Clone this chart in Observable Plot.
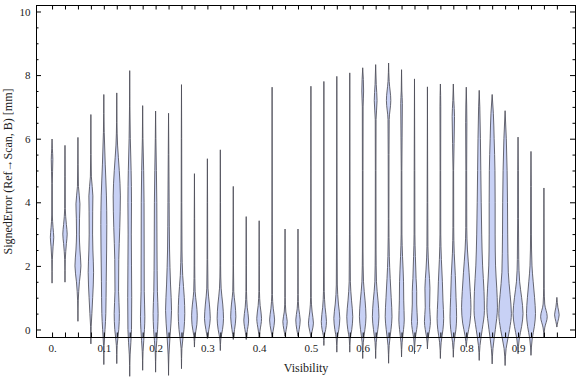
<!DOCTYPE html>
<html>
<head>
<meta charset="utf-8">
<script src="https://cdn.jsdelivr.net/npm/d3@7"></script>
<script src="https://cdn.jsdelivr.net/npm/@observablehq/plot@0.6"></script>
<style>
  html, body { margin: 0; padding: 0; background: #fff; }
  #chart { width: 576px; height: 377px; }
</style>
</head>
<body>
<div id="chart"></div>
<script>
// Category positions (Visibility)
const visibility = [0, 0.025, 0.05, 0.075, 0.1, 0.125, 0.15, 0.175, 0.2, 0.225,
  0.25, 0.275, 0.3, 0.325, 0.35, 0.375, 0.4, 0.425, 0.45, 0.475,
  0.5, 0.525, 0.55, 0.575, 0.6, 0.625, 0.65, 0.675, 0.7, 0.725,
  0.75, 0.775, 0.8, 0.825, 0.85, 0.875, 0.9, 0.925, 0.95, 0.975];

// Violin profiles: [signed error (mm), relative density]
const violinKnots = [
  [[1.47,0],[2.2,0.3],[2.6,1.0],[2.9,1.7],[3.2,1.0],[3.6,0.3],[4.6,0.25],[5.35,0.8],[5.7,0.3],[5.99,0]],
  [[1.5,0],[2.2,0.3],[2.7,1.4],[3.0,2.2],[3.3,1.4],[3.8,0.3],[4.8,0.2],[5.79,0]],
  [[0.27,0],[0.9,0.3],[1.5,1.5],[2.0,3.0],[2.5,2.0],[3.0,1.4],[3.5,1.6],[3.95,2.0],[4.5,0.5],[5.2,0.2],[6.04,0]],
  [[-0.44,0],[0.1,0.3],[0.5,1.0],[1.0,1.8],[1.8,2.7],[2.5,2.0],[3.0,1.7],[3.7,1.8],[4.2,2.0],[4.8,0.5],[5.5,0.2],[6.76,0]],
  [[-1.09,0],[-0.5,0.3],[0,1.2],[0.5,2.0],[1.5,2.4],[2.5,2.8],[3.3,3.0],[4.2,2.6],[5.2,1.4],[6.2,0.4],[7.39,0]],
  [[-1.06,0],[-0.5,0.4],[0,2.0],[0.5,2.6],[1.2,1.8],[2.2,2.0],[3.2,3.0],[4.2,3.6],[5.0,2.5],[5.8,0.8],[6.5,0.2],[7.44,0]],
  [[-1.46,0],[-0.8,0.4],[0,1.8],[1,2.0],[2,1.8],[3,1.6],[4,1.8],[5,1.4],[6,0.6],[7,0.2],[8.14,0]],
  [[-1.27,0],[-0.7,0.4],[0,1.8],[0.4,2.2],[1.2,1.6],[2.5,1.5],[4,1.4],[5,1.0],[6,0.3],[7.04,0]],
  [[-1.33,0],[-0.7,0.4],[0,2.0],[0.5,2.5],[1.2,1.8],[2.5,1.4],[4,1.2],[5,0.8],[6,0.3],[6.87,0]],
  [[-1.43,0],[-0.8,0.4],[-0.2,1.5],[0.6,3.0],[1.4,2.0],[2.5,1.0],[4,0.6],[5.5,0.3],[6.8,0]],
  [[-1.22,0],[-0.6,0.4],[0,2.5],[0.5,3.3],[1.0,2.8],[1.7,1.2],[2.5,0.5],[4,0.3],[6,0.2],[7.7,0]],
  [[-0.54,0],[-0.2,0.6],[0.15,2.4],[0.45,2.8],[0.8,2.0],[1.2,0.7],[2,0.3],[3.5,0.2],[4.9,0]],
  [[-0.27,0],[0,1.5],[0.35,2.9],[0.8,2.0],[1.3,0.6],[2.2,0.3],[4,0.2],[5.37,0]],
  [[-0.65,0],[-0.3,0.5],[0,2.2],[0.35,3.2],[0.8,2.4],[1.3,0.8],[2,0.3],[4,0.2],[5.65,0]],
  [[-0.3,0],[0,1.3],[0.4,2.6],[0.8,1.8],[1.2,0.5],[2,0.2],[4.5,0]],
  [[-0.3,0],[-0.1,0.8],[0.3,2.4],[0.7,1.0],[1.2,0.3],[2,0.2],[3.55,0]],
  [[-0.25,0],[-0.05,0.8],[0.35,2.4],[0.75,1.0],[1.2,0.3],[2,0.2],[3.42,0]],
  [[-0.23,0],[-0.05,1.0],[0.3,2.5],[0.65,1.2],[1.1,0.3],[3,0.2],[7.62,0]],
  [[-0.2,0],[0,1.2],[0.25,2.2],[0.55,0.8],[1.0,0.2],[3.16,0]],
  [[-0.2,0],[0,1.2],[0.3,2.2],[0.65,0.8],[1.1,0.2],[3.16,0]],
  [[-0.23,0],[-0.05,1.2],[0.2,2.5],[0.55,1.2],[1.0,0.3],[2,0.2],[7.65,0]],
  [[-0.49,0],[-0.2,0.5],[0,1.8],[0.25,2.6],[0.7,1.2],[1.2,0.4],[2.5,0.2],[7.8,0]],
  [[-0.7,0],[-0.3,0.5],[0,2.0],[0.35,3.0],[0.8,1.6],[1.4,0.5],[3,0.25],[7.96,0]],
  [[-0.7,0],[-0.3,0.5],[0,2.0],[0.4,3.0],[0.9,1.8],[1.5,0.6],[3,0.3],[8.07,0]],
  [[-0.9,0],[-0.4,0.6],[0,2.2],[0.4,3.3],[0.9,2.4],[1.5,0.8],[2.5,0.3],[5,0.3],[7.0,0.4],[7.5,0.9],[8.23,0]],
  [[-0.9,0],[-0.4,0.6],[0,2.2],[0.4,3.3],[0.9,2.4],[1.5,0.8],[2.5,0.4],[5,0.3],[6.6,0.4],[7.2,1.4],[7.7,0.6],[8.33,0]],
  [[-1.05,0],[-0.5,0.6],[0,2.4],[0.4,3.4],[1.0,2.6],[1.6,1.6],[2.3,0.7],[3.5,0.3],[5.5,0.4],[6.6,0.6],[7.2,2.2],[7.8,0.6],[8.38,0]],
  [[-0.85,0],[-0.4,0.6],[0,2.0],[0.3,2.7],[0.9,2.2],[1.5,2.0],[2.3,1.0],[3,0.4],[5,0.3],[7.1,0.8],[7.5,0.3],[8.17,0]],
  [[-0.75,0],[-0.3,0.7],[0,2.2],[0.25,3.0],[0.8,2.2],[1.2,2.2],[1.6,1.6],[2.3,0.9],[3,0.4],[5,0.3],[7.88,0]],
  [[-0.6,0],[-0.25,0.8],[0,2.2],[0.25,3.0],[0.7,2.2],[1.3,2.5],[1.9,1.4],[2.6,0.5],[4,0.3],[7.63,0]],
  [[-0.9,0],[-0.4,0.8],[0,2.6],[0.35,3.3],[0.9,2.6],[1.5,2.0],[2.2,1.0],[3,0.4],[5,0.3],[7,0.4],[7.72,0]],
  [[-0.86,0],[-0.4,0.8],[0,2.6],[0.4,3.3],[1,2.7],[1.7,2.0],[2.4,0.9],[3.2,0.4],[5,0.3],[6.7,1.2],[7.2,0.5],[7.72,0]],
  [[-0.54,0],[-0.2,1.2],[0.2,3.6],[0.7,4.7],[1.2,4.0],[1.8,2.8],[2.5,1.2],[3.2,0.5],[5,0.4],[6.5,0.6],[7.62,0]],
  [[-0.96,0],[-0.5,0.8],[0,3.0],[0.6,5.2],[1.2,4.8],[2,3.4],[3,2.5],[4,2.0],[5,1.6],[6,1.2],[7,0.6],[7.52,0]],
  [[-1.07,0],[-0.6,0.8],[0,3.2],[0.7,5.3],[1.3,4.6],[2,3.4],[3,3.0],[4,3.0],[5,2.8],[6,2.0],[6.8,1.2],[7.39,0]],
  [[-1.12,0],[-0.6,1.0],[0,4.5],[0.5,6.3],[1.1,5.0],[1.8,3.2],[3,2.6],[4,2.4],[5,2.0],[6,1.2],[6.88,0]],
  [[-0.75,0],[-0.3,1.2],[0.1,3.6],[0.5,5.0],[1.0,3.6],[1.5,1.6],[2.2,0.7],[3.5,0.4],[5,0.3],[6.05,0]],
  [[-0.8,0],[-0.3,1.2],[0.1,3.4],[0.5,4.5],[1.0,3.6],[1.5,2.2],[2.0,1.0],[3,0.4],[4.5,0.3],[5.6,0]],
  [[-0.23,0],[0.05,0.8],[0.4,3.3],[0.8,0.8],[1.3,0.3],[4.45,0]],
  [[0.09,0],[0.25,1.0],[0.46,2.3],[0.7,1.0],[1.01,0]]
];

// Tick labels
const xTickValues = [0, 0.1, 0.2, 0.3, 0.4, 0.5, 0.6, 0.7, 0.8, 0.9];
const xTickLabels = ["0.", "0.1", "0.2", "0.3", "0.4", "0.5", "0.6", "0.7", "0.8", "0.9"];
const yMajorTicks = [0, 2, 4, 6, 8, 10];
const yMinorTicks = [0.5, 1, 1.5, 2.5, 3, 3.5, 4.5, 5, 5.5, 6.5, 7, 7.5, 8.5, 9, 9.5];
const xTitle = "Visibility";
const yTitle = "SignedError (Ref\u2192Scan, B) [mm]";

// ---- build ----
const W = 576, H = 377;
const mL = 36, mR = 1, mT = 5, mB = 40;
const plotW = W - mL - mR, plotH = H - mT - mB;
const densityToX = 0.00193; // relative density unit -> Visibility units

const rows = violinKnots.flatMap((knots, i) =>
  knots.map(([y, d]) => ({v: visibility[i], y, d})));

const xLabelRows = xTickValues.map((v, i) => ({v, label: xTickLabels[i]}));

const fontFam = "'Liberation Serif', 'DejaVu Serif', serif";

const chart = Plot.plot({
  width: W,
  height: H,
  marginLeft: mL,
  marginRight: mR,
  marginTop: mT,
  marginBottom: mB,
  style: {fontFamily: fontFam, fontSize: "11px", background: "#fff", overflow: "visible"},
  x: {domain: [-0.031, 1.01], axis: null},
  y: {domain: [-0.236, 10.204], axis: null},
  marks: [
    Plot.areaX(rows, {
      y: "y",
      x1: r => r.v - r.d * densityToX,
      x2: r => r.v + r.d * densityToX,
      z: "v",
      curve: "monotone-y",
      fill: "#c8d1f5",
      stroke: "#4d4d58",
      strokeWidth: 1,
      strokeOpacity: 0.85
    }),
    Plot.frame({stroke: "#000", strokeWidth: 1}),
    // bottom & top ticks (inward)
    Plot.tickX(visibility, {x: d => d, insetTop: plotH - 4.5, stroke: "#000"}),
    Plot.tickX(visibility, {x: d => d, insetBottom: plotH - 4.5, stroke: "#000"}),
    // left & right ticks (inward)
    Plot.tickY(yMajorTicks, {y: d => d, insetRight: plotW - 5, stroke: "#000"}),
    Plot.tickY(yMinorTicks, {y: d => d, insetRight: plotW - 2.5, stroke: "#000"}),
    Plot.tickY(yMajorTicks, {y: d => d, insetLeft: plotW - 5, stroke: "#000"}),
    Plot.tickY(yMinorTicks, {y: d => d, insetLeft: plotW - 2.5, stroke: "#000"}),
    // tick labels
    Plot.text(xLabelRows, {x: "v", text: "label", frameAnchor: "bottom", dy: 11, lineAnchor: "middle", textAnchor: "middle", fill: "#222", fontSize: 11}),
    Plot.text(yMajorTicks, {y: d => d, text: d => String(d), frameAnchor: "left", textAnchor: "end", dx: -6, fill: "#222", fontSize: 11}),
    // titles
    Plot.text([xTitle], {frameAnchor: "bottom", dy: 31, lineAnchor: "middle", textAnchor: "middle", fill: "#222", fontSize: 12}),
    Plot.text([yTitle], {frameAnchor: "left", dx: -28.5, rotate: -90, lineAnchor: "middle", textAnchor: "middle", fill: "#222", fontSize: 12})
  ]
});

document.getElementById("chart").appendChild(chart);
</script>
</body>
</html>
